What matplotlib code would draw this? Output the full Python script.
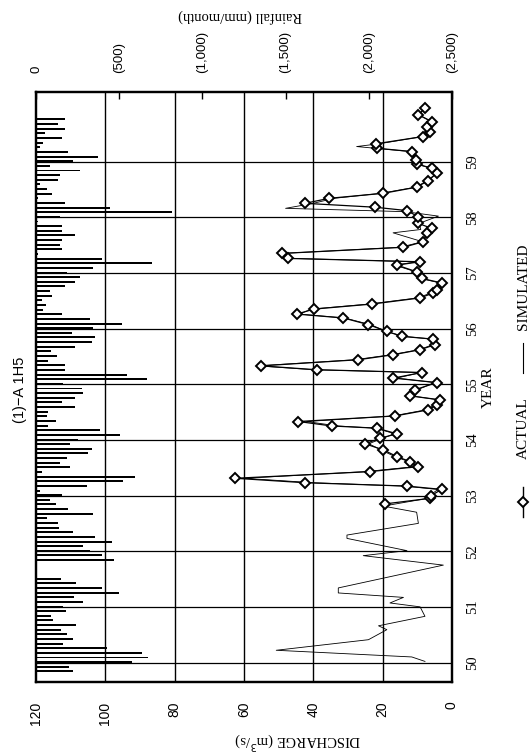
import numpy as np
import matplotlib
matplotlib.use("Agg")
from matplotlib import pyplot as plt
from matplotlib.lines import Line2D

# simulated discharge (m3/s), vertices
sim_year = [50.02, 50.10, 50.22, 50.41, 50.59, 50.66, 50.83, 51.00, 51.07, 51.17,
            51.25, 51.34, 51.75, 51.92, 52.01, 52.23, 52.29, 52.50, 52.70, 52.81,
            52.95, 53.00, 53.11, 53.17, 53.23, 53.31, 53.43, 53.52, 53.61, 53.70,
            53.82, 53.93, 54.03, 54.11, 54.21, 54.25, 54.33, 54.43, 54.54, 54.63,
            54.72, 54.79, 54.90, 55.03, 55.11, 55.21, 55.26, 55.33, 55.44, 55.53,
            55.62, 55.71, 55.81, 55.86, 55.95, 56.07, 56.19, 56.26, 56.35, 56.44,
            56.55, 56.64, 56.69, 56.82, 56.90, 57.02, 57.14, 57.20, 57.26, 57.35,
            57.46, 57.56, 57.72, 57.78, 57.89, 58.02, 58.10, 58.16, 58.25, 58.34,
            58.43, 58.54, 58.66, 58.79, 58.88, 58.96, 59.02, 59.18, 59.27, 59.32,
            59.45, 59.54, 59.63, 59.72, 59.84, 59.96]
sim_q = [7.8, 11.6, 50.7, 24.1, 18.8, 21.2, 7.8, 9.2, 17.9, 14.0,
         32.8, 32.8, 2.5, 25.6, 13.0, 30.3, 30.3, 9.7, 10.2, 19.8,
         7.0, 6.5, 4.0, 14.0, 40.0, 60.0, 25.0, 10.5, 12.5, 16.5,
         20.5, 24.0, 20.0, 16.5, 22.0, 33.0, 42.0, 17.0, 7.5, 5.0,
         4.0, 11.5, 10.0, 5.0, 16.0, 9.0, 40.0, 56.0, 28.0, 17.5,
         9.5, 5.5, 5.5, 14.0, 19.0, 23.5, 31.0, 44.0, 40.5, 24.0,
         10.0, 6.0, 5.0, 3.5, 9.0, 10.5, 16.5, 10.0, 46.0, 49.0,
         15.0, 8.5, 17.0, 9.0, 9.5, 3.9, 13.5, 48.0, 40.0, 34.0,
         20.5, 10.5, 7.0, 4.5, 6.0, 10.5, 10.5, 12.0, 27.5, 21.0,
         8.5, 6.5, 7.5, 6.0, 9.5, 8.0]

# actual (observed) discharge, 1953-1959
act_year = [52.85, 52.95, 53.00, 53.11, 53.17, 53.23, 53.31, 53.43, 53.52, 53.61,
            53.70, 53.82, 53.93, 54.03, 54.11, 54.21, 54.25, 54.33, 54.43, 54.54,
            54.63, 54.72, 54.79, 54.90, 55.03, 55.11, 55.21, 55.26, 55.33, 55.44,
            55.53, 55.62, 55.71, 55.81, 55.86, 55.95, 56.07, 56.19, 56.26, 56.35,
            56.44, 56.55, 56.64, 56.69, 56.82, 56.90, 57.02, 57.14, 57.20, 57.26,
            57.35, 57.46, 57.56, 57.71, 57.80, 57.89, 58.01, 58.12, 58.18, 58.25,
            58.34, 58.43, 58.54, 58.66, 58.79, 58.88, 58.96, 59.02, 59.18, 59.24,
            59.32, 59.45, 59.54, 59.63, 59.72, 59.84, 59.96]
act_q = [19.3, 6.3, 6.0, 3.0, 13.0, 42.4, 62.5, 23.6, 9.7, 12.1,
         15.9, 19.8, 25.1, 20.7, 15.9, 21.7, 34.7, 44.3, 16.4, 6.8,
         4.4, 3.5, 12.1, 10.7, 4.4, 16.9, 8.7, 39.0, 55.1, 27.0,
         16.9, 9.2, 4.9, 5.4, 14.5, 18.8, 24.1, 31.3, 44.8, 39.8,
         23.1, 9.2, 5.4, 4.4, 3.0, 8.7, 10.2, 15.9, 9.2, 47.2,
         49.1, 14.0, 8.3, 7.3, 5.9, 9.7, 9.7, 13.1, 22.2, 42.4,
         35.4, 19.8, 10.2, 6.8, 4.4, 5.9, 10.2, 10.4, 11.6, 21.7,
         21.9, 8.3, 6.3, 7.3, 5.9, 9.7, 7.8]

# monthly rainfall (mm/month), first month at ~49.84
rain_start = 49.84
rain_mm = [222, 200, 577, 673, 640, 426, 162, 222, 185, 150,
           240, 100, 90, 180, 162, 283, 230, 498, 396, 240,
           150, 0, 0, 0, 467, 396, 324, 280, 456, 354,
           222, 140, 130, 69, 343, 190, 120,
           84, 154, 24, 305, 523, 595, 34, 204, 144, 184,
           313, 335, 204, 252, 505, 385, 72, 120, 64, 72,
           234, 154, 234, 283, 275, 162, 665, 545, 174, 174,
           72, 124, 90, 234, 335, 354, 214, 343, 515, 324,
           154, 42, 60, 34, 94, 84, 174, 234, 264, 184,
           343, 695, 395, 10,
           154, 144, 154, 234, 154, 154, 12, 144, 815, 445,
           174, 12, 94, 64, 24, 132, 144, 264, 84, 222,
           373, 192, 24, 42, 154, 54, 174, 132, 174]
rain_year = rain_start + np.arange(len(rain_mm)) / 12.0

q_ticks = [0, 20, 40, 60, 80, 100, 120]
year_ticks = [50, 51, 52, 53, 54, 55, 56, 57, 58, 59]
rain_ticks = [0, 500, 1000, 1500, 2000, 2500]
rain_labels = ["0", "(500)", "(1,000)", "(1,500)", "(2,000)", "(2,500)"]

serif = ["Liberation Serif", "DejaVu Serif"]
sans = ["Liberation Sans", "DejaVu Sans"]

W, H = 532, 752
fig = plt.figure(figsize=(W / 100, H / 100), dpi=100)
ax = fig.add_axes([36 / W, 1 - 682 / H, (452 - 36) / W, (682 - 92) / H])

ax.set_xlim(120, 0)
ax.set_ylim(49.65, 60.25)

ax2 = ax.twiny()
ax2.set_xlim(0, 2500)
ax2.barh(rain_year, rain_mm, height=0.035, left=0, color="black", zorder=2)

ax.plot(sim_q, sim_year, color="black", lw=0.6, zorder=3)
ax.plot(act_q, act_year, color="black", lw=0.9, marker="D", markersize=5.5,
        markerfacecolor="white", markeredgecolor="black", markeredgewidth=1.4, zorder=4)

# grid
for q in q_ticks[1:-1]:
    ax.axvline(q, color="black", lw=1.0, zorder=1)
for y in year_ticks:
    ax.axhline(y, color="black", lw=0.9, zorder=1)

for a in (ax, ax2):
    for s in a.spines.values():
        s.set_linewidth(1.6)

ax.set_xticks(q_ticks)
ax.set_xticklabels([str(q) for q in q_ticks], rotation=90, family=sans, fontsize=10)
ax.tick_params(axis="x", length=0, pad=14)

ax.yaxis.tick_right()
ax.set_yticks(year_ticks)
ax.set_yticklabels([str(y) for y in year_ticks], rotation=90, family=serif,
                   fontsize=10.5, va="center")
ax.tick_params(axis="y", length=0, pad=10)
ax.yaxis.set_label_position("right")
ax.set_ylabel("YEAR", rotation=90, family=serif, fontsize=11, labelpad=2)

ax2.set_xticks(rain_ticks)
ax2.set_xticklabels(rain_labels, rotation=90, family=sans, fontsize=9.5)
ax2.tick_params(axis="x", direction="in", length=5, width=1, pad=14)

# texts around the frame
fig.text(20 / W, 1 - 390 / H, "(1)\u2212A 1H5", rotation=90, family=sans,
         fontsize=10.5, ha="center", va="center")
fig.text(298 / W, 1 - 741 / H, "DISCHARGE (m$^3$/s)", rotation=180, family=serif,
         fontsize=10.5, ha="center", va="center")
fig.text(240 / W, 1 - 16 / H, "Rainfall (mm/month)", rotation=180, family=serif,
         fontsize=10.5, ha="center", va="center")

# legend, drawn rotated like the rest of the sheet
lx = 523 / W
fig.add_artist(Line2D([lx, lx], [1 - 517 / H, 1 - 487 / H], color="black", lw=1.0,
                      transform=fig.transFigure))
fig.add_artist(Line2D([lx], [1 - 502 / H], marker="D", markersize=5.5,
                      markerfacecolor="white", markeredgecolor="black",
                      markeredgewidth=1.4, transform=fig.transFigure))
fig.text(lx, 1 - 428 / H, "ACTUAL", rotation=90, family=serif, fontsize=11,
         ha="center", va="center")
fig.add_artist(Line2D([lx, lx], [1 - 373 / H, 1 - 343 / H], color="black", lw=0.8,
                      transform=fig.transFigure))
fig.text(lx, 1 - 287 / H, "SIMULATED", rotation=90, family=serif, fontsize=11,
         ha="center", va="center")

fig.savefig("out.png", dpi=100)
